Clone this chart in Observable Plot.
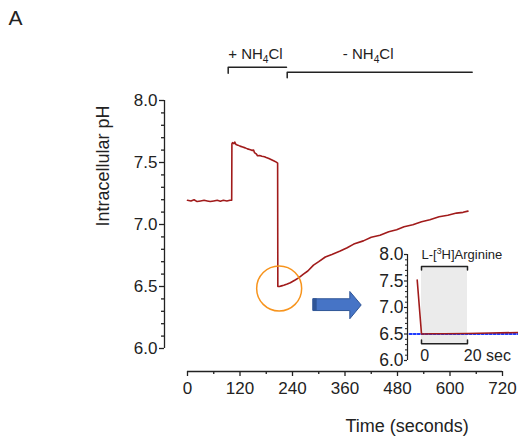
<!DOCTYPE html>
<html><head><meta charset="utf-8">
<script src="https://cdn.jsdelivr.net/npm/d3@7"></script>
<script src="https://cdn.jsdelivr.net/npm/@observablehq/plot@0.6"></script>
<style>
body{margin:0;background:#fff;}
#wrap{position:relative;width:518px;height:441px;overflow:hidden;}
#main{position:absolute;left:0;top:0;}
#inset{position:absolute;left:370px;top:240px;}
</style></head><body><div id="wrap"><div id="main"></div><div id="inset"></div></div>
<script>
// ---------- data (time in s, intracellular pH) ----------
const baselineTrace = [[0,7.195],[8,7.19],[15,7.2],[22,7.185],[30,7.19],[38,7.195],[45,7.19],[52,7.185],[60,7.19],[68,7.195],[75,7.188],[82,7.195],[90,7.19],[97,7.195],[101,7.195]];
const nh4Trace = [[101.5,7.65],[103,7.66],[106,7.652],[108,7.665],[111,7.645],[115,7.64],[120,7.632],[126,7.625],[132,7.618],[137,7.61],[142,7.605],[147,7.598],[151,7.6],[153,7.58],[157,7.57],[160,7.555],[165,7.557],[170,7.55],[176,7.546],[180,7.54],[186,7.532],[192,7.522],[198,7.512],[203,7.503],[206,7.495]];
const recoveryTrace = [[206.5,6.5],[210,6.5],[215,6.505],[220,6.51],[228,6.52],[235,6.53],[245,6.55],[254,6.57],[265,6.6],[275,6.625],[288,6.672],[300,6.7],[315,6.738],[330,6.758],[349,6.786],[365,6.812],[380,6.842],[402,6.868],[420,6.897],[440,6.913],[460,6.942],[478,6.958],[495,6.982],[515,6.998],[535,7.022],[554,7.038],[575,7.062],[595,7.074],[615,7.092],[630,7.098],[641,7.108]];

const xMajor = [0,120,240,360,480,600,720];
const xMinor = [60,180,300,420,540,660];
const yMajor = [6.0,6.5,7.0,7.5,8.0];
const yMinor = [6.1,6.2,6.3,6.4,6.6,6.7,6.8,6.9,7.1,7.2,7.3,7.4,7.6,7.7,7.8,7.9];

// treatment brackets
const treatLabels = [{t:155.4, ph:8.377, text:"+ NH_4Cl"},{t:413, ph:8.377, text:"- NH_4Cl"}];
const bracketAdd = [[93,8.22],[93,8.269],[226.3,8.269]];
const bracketRemove = [[227.9,8.183],[227.9,8.228],[650.7,8.228]];
const circleMark = [{t:209.5, ph:6.484}];
const arrowShape = [[287.3,6.401],[371,6.401],[371,6.46],[397,6.351],[371,6.24],[371,6.306],[287.3,6.306]];

// inset (seconds after uptake start)
const insetTrace = [[-1.87,7.52],[0,6.5],[5,6.505],[10,6.506],[20,6.51],[30,6.518],[44,6.53]];
const insetBaseline = [[-5.2,6.5],[44,6.5]];
const insetYMajor = [6.0,6.5,7.0,7.5,8.0];
const insetYMinor = [6.1,6.2,6.3,6.4,6.6,6.7,6.8,6.9,7.1,7.2,7.3,7.4,7.6,7.7,7.8,7.9];

const font = "'Liberation Sans', Arial, Helvetica, sans-serif";
const red = "#a11b1b";

function applyScripts(svg){
  const ns = "http://www.w3.org/2000/svg";
  for (const el of svg.querySelectorAll("text")) {
    const s = el.textContent;
    if (!/[_^]/.test(s)) continue;
    const fs = parseFloat(getComputedStyle(el).fontSize) || 14;
    el.textContent = "";
    const re = /([_^])(.)|([^_^]+)/g; let m, shift = 0;
    while ((m = re.exec(s))) {
      const t = document.createElementNS(ns, "tspan");
      if (m[3]) { t.textContent = m[3]; t.setAttribute("dy", -shift); shift = 0; }
      else {
        const d = m[1] === "_" ? 0.3*fs : -0.42*fs;
        t.textContent = m[2]; t.setAttribute("font-size", (fs*0.68).toFixed(1));
        t.setAttribute("dy", d - shift); shift = d;
      }
      el.appendChild(t);
    }
  }
}

const main = Plot.plot({
  width: 518, height: 441,
  marginLeft: 164, marginRight: 16, marginTop: 100, marginBottom: 70,
  x: {domain: [0, 720], range: [187, 502]},
  y: {domain: [6, 8], range: [348, 100]},
  style: {fontFamily: font, background: "transparent", color: "#222"},
  marks: [
    Plot.ruleX([0], {y1: 6, y2: 8, dx: -23, strokeWidth: 1.3}),
    Plot.axisY(yMajor, {anchor: "left", tickSize: 5, tickPadding: 2, fontSize: 17, tickFormat: d => d.toFixed(1), label: null, strokeWidth: 1.3}),
    Plot.axisY(yMinor, {anchor: "left", tickSize: 3, tickFormat: () => "", label: null, strokeWidth: 1.3}),
    Plot.ruleY([6], {x1: 0, x2: 720, dy: 23, strokeWidth: 1.3}),
    Plot.axisX(xMajor, {anchor: "bottom", tickSize: 5, tickPadding: 5, fontSize: 17, label: null, strokeWidth: 1.3}),
    Plot.axisX(xMinor, {anchor: "bottom", tickSize: 3, tickFormat: () => "", label: null, strokeWidth: 1.3}),
    Plot.line(baselineTrace.concat(nh4Trace, recoveryTrace), {x: d => d[0], y: d => d[1], stroke: red, strokeWidth: 1.6}),
    Plot.dot(circleMark, {x: "t", y: "ph", r: 22.5, stroke: "#f7941d", strokeWidth: 1.5, fill: "none"}),
    Plot.line(arrowShape, {x: d => d[0], y: d => d[1], curve: "linear-closed", fill: "#4674c6", stroke: "#2f5597", strokeWidth: 1}),
    Plot.rect([{x1: 287.3, x2: 296.4, y1: 6.306, y2: 6.401}], {x1: "x1", x2: "x2", y1: "y1", y2: "y2", fill: "#2f5597"}),
    Plot.line(bracketAdd, {x: d => d[0], y: d => d[1], stroke: "#222", strokeWidth: 1.5}),
    Plot.line(bracketRemove, {x: d => d[0], y: d => d[1], stroke: "#222", strokeWidth: 1.5}),
    Plot.text(treatLabels, {x: "t", y: "ph", text: "text", fontSize: 15, lineAnchor: "middle"}),
    Plot.text(["A"], {frameAnchor: "top-left", dx: -156, dy: -90, textAnchor: "start", fontSize: 21}),
    Plot.text(["Intracellular pH"], {frameAnchor: "top-left", dx: 96 - 164, dy: 226 - 100, rotate: -90, fontSize: 18}),
    Plot.text(["Time (seconds)"], {frameAnchor: "bottom-left", dx: 345 - 164, dy: 431 - 371, fontSize: 18})
  ]
});
document.getElementById("main").appendChild(main);
applyScripts(main);

const inset = Plot.plot({
  width: 148, height: 130,
  marginLeft: 37, marginRight: 0, marginTop: 14, marginBottom: 10,
  x: {domain: [0, 20], range: [51, 97], axis: null},
  y: {domain: [6, 8], range: [120, 14]},
  style: {fontFamily: font, background: "transparent", color: "#222", overflow: "visible"},
  marks: [
    Plot.rect([{x1: 0, x2: 20, y1: 6.315, y2: 7.774}], {x1: "x1", x2: "x2", y1: "y1", y2: "y2", fill: "#ebebeb"}),
    Plot.ruleX([0], {y1: 6, y2: 8, dx: -14, strokeWidth: 1.2}),
    Plot.axisY(insetYMajor, {anchor: "left", tickSize: 3, tickPadding: 1, fontSize: 17.5, tickFormat: d => d.toFixed(1), label: null, strokeWidth: 1.2}),
    Plot.axisY(insetYMinor, {anchor: "left", tickSize: 2, tickFormat: () => "", label: null, strokeWidth: 1}),
    Plot.line(insetBaseline, {x: d => d[0], y: d => d[1], stroke: "#1f3cff", strokeWidth: 2, strokeDasharray: "2,2"}),
    Plot.line(insetTrace, {x: d => d[0], y: d => d[1], stroke: red, strokeWidth: 1.6}),
    Plot.line([[0,7.708],[0,7.774],[20,7.774],[20,7.708]], {x: d => d[0], y: d => d[1], stroke: "#222", strokeWidth: 1.5}),
    Plot.line([[0,6.387],[0,6.315],[20,6.315],[20,6.387]], {x: d => d[0], y: d => d[1], stroke: "#222", strokeWidth: 1.5}),
    Plot.text([{t: 0, ph: 7.985, text: "L-[^3H]Arginine"}], {x: "t", y: "ph", text: "text", textAnchor: "start", fontSize: 13, lineAnchor: "middle"}),
    Plot.text([{t: 1.4, ph: 6.081, text: "0"}], {x: "t", y: "ph", text: "text", fontSize: 16, lineAnchor: "middle"}),
    Plot.text([{t: 18.4, ph: 6.081, text: "20 sec"}], {x: "t", y: "ph", text: "text", textAnchor: "start", fontSize: 16, lineAnchor: "middle"})
  ]
});
document.getElementById("inset").appendChild(inset);
applyScripts(inset);
</script></body></html>
